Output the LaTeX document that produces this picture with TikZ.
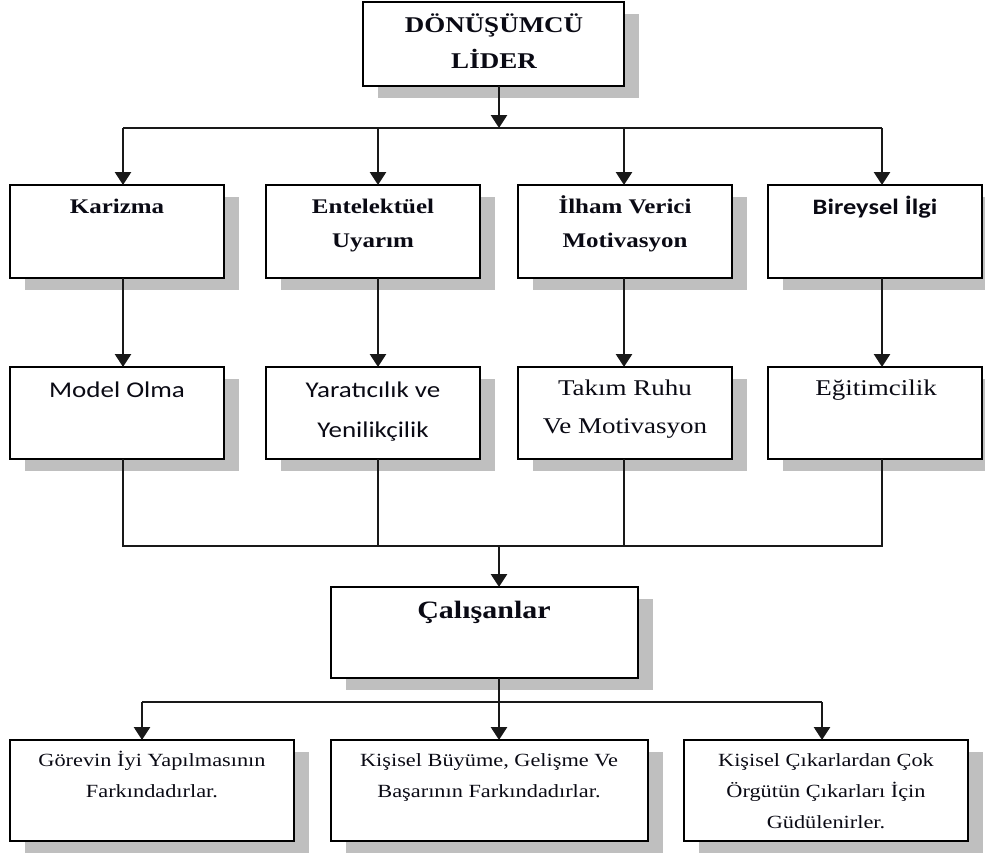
\documentclass[tikz,border=0pt]{standalone}
\usepackage{fontspec}
\setmainfont{Liberation Serif}[FakeStretch=1.2]
\newfontfamily\calfont{Carlito}[FakeStretch=1.2]
\usetikzlibrary{arrows.meta,shadows}
\definecolor{shade}{HTML}{BFBFBF}
\definecolor{ink}{HTML}{0A0A14}

\begin{document}
\begin{tikzpicture}[x=1pt,y=-1pt,
  box/.style={draw=black, line width=1.9pt, fill=white, inner sep=0pt, outer sep=0pt,
    anchor=north west,
    drop shadow={shadow xshift=15pt, shadow yshift=-12pt, fill=shade, opacity=1}},
  link/.style={line width=2.7pt, draw=black!90},
  arr/.style={link, -{Triangle[length=13pt,width=16pt]}},
  thinlink/.style={line width=1.8pt, draw=black!90, line join=miter},
  lab/.style={anchor=base, inner sep=0pt, text=ink},
  head/.style={lab, font=\fontsize{22.5}{26}\selectfont\bfseries},
  dim/.style={lab, font=\fontsize{20.8}{24}\selectfont\bfseries},
  serifr/.style={lab, font=\fontsize{22.5}{26}\selectfont},
  sansr/.style={lab, font=\calfont\fontsize{22.5}{26}\selectfont},
  sansb/.style={lab, font=\calfont\fontsize{22}{26}\selectfont\bfseries},
  staff/.style={lab, font=\fontsize{25}{29}\selectfont\bfseries},
  effect/.style={lab, font=\fontsize{18.6}{22}\selectfont},
]
\useasboundingbox (0,0) rectangle (985,857);

% leader
\node[box, minimum width=261pt, minimum height=84pt] (top) at (363,2) {};

% four dimensions
\node[box, minimum width=214pt, minimum height=93pt] (b1) at (10,185) {};
\node[box, minimum width=214pt, minimum height=93pt] (b2) at (266,185) {};
\node[box, minimum width=214pt, minimum height=93pt] (b3) at (518,185) {};
\node[box, minimum width=214pt, minimum height=93pt] (b4) at (768,185) {};

% behaviours
\node[box, minimum width=214pt, minimum height=92pt] (m1) at (10,367) {};
\node[box, minimum width=214pt, minimum height=92pt] (m2) at (266,367) {};
\node[box, minimum width=214pt, minimum height=92pt] (m3) at (518,367) {};
\node[box, minimum width=214pt, minimum height=92pt] (m4) at (768,367) {};

% employees
\node[box, minimum width=307pt, minimum height=91pt] (cal) at (331,587) {};

% outcomes
\node[box, minimum width=284pt, minimum height=101pt] (g1) at (10,740) {};
\node[box, minimum width=317pt, minimum height=101pt] (g2) at (331,740) {};
\node[box, minimum width=284pt, minimum height=101pt] (g3) at (684,740) {};

% labels
\node[head] (top1) at (494,32) {DÖNÜŞÜMCÜ};
\node[head] (top2) at (494,68) {LİDER};

\node[dim] (b1a) at (117,213) {Karizma};
\node[dim] (b2a) at (373,213) {Entelektüel};
\node[dim] (b2b) at (373,247) {Uyarım};
\node[dim] (b3a) at (625,213) {İlham Verici};
\node[dim] (b3b) at (625,247) {Motivasyon};
\node[sansb] (b4a) at (875,214) {Bireysel İlgi};

\node[sansr] (m1a) at (117,397) {Model Olma};
\node[sansr] (m2a) at (373,397) {Yaratıcılık ve};
\node[sansr] (m2b) at (373,437) {Yenilikçilik};
\node[serifr] (m3a) at (625,395) {Takım Ruhu};
\node[serifr] (m3b) at (625,433) {Ve Motivasyon};
\node[serifr] (m4a) at (876,395) {Eğitimcilik};

\node[staff] (cala) at (484,618) {Çalışanlar};

\node[effect] (g1a) at (152,766) {Görevin İyi Yapılmasının};
\node[effect] (g1b) at (152,797) {Farkındadırlar.};
\node[effect] (g2a) at (489,766) {Kişisel Büyüme, Gelişme Ve};
\node[effect] (g2b) at (489,797) {Başarının Farkındadırlar.};
\node[effect] (g3a) at (826,766) {Kişisel Çıkarlardan Çok};
\node[effect] (g3b) at (826,797) {Örgütün Çıkarları İçin};
\node[effect] (g3c) at (826,828) {Güdülenirler.};

% junction points
\coordinate (jt) at (499,128);
\coordinate (c1) at (123,128);
\coordinate (c2) at (378,128);
\coordinate (c3) at (624,128);
\coordinate (c4) at (882,128);
\coordinate (jb) at (499,546);
\coordinate (jc) at (499,702);
\coordinate (e1) at (142,702);
\coordinate (e3) at (822,702);

% leader to dimensions
\draw[arr] (top.south -| jt) -- (jt);
\draw[link] (c1) -- (c4);
\foreach \c/\b in {c1/b1, c2/b2, c3/b3, c4/b4}
  \draw[arr] (\c) -- (\c |- \b.north);

% dimensions to behaviours
\foreach \c/\b/\m in {c1/b1/m1, c2/b2/m2, c3/b3/m3, c4/b4/m4}
  \draw[arr] (\c |- \b.south) -- (\c |- \m.north);

% behaviours merge towards employees
\draw[thinlink] (c1 |- m1.south) -- (c1 |- jb) -- (c4 |- jb) -- (c4 |- m4.south);
\draw[thinlink] (c2 |- m2.south) -- (c2 |- jb);
\draw[thinlink] (c3 |- m3.south) -- (c3 |- jb);
\draw[arr] (jb) -- (jb |- cal.north);

% employees to outcomes
\draw[link] (e1) -- (e3);
\draw[arr] (cal.south -| jc) -- (jc |- g2.north);
\draw[arr] (e1) -- (e1 |- g1.north);
\draw[arr] (e3) -- (e3 |- g3.north);
\end{tikzpicture}
\end{document}
